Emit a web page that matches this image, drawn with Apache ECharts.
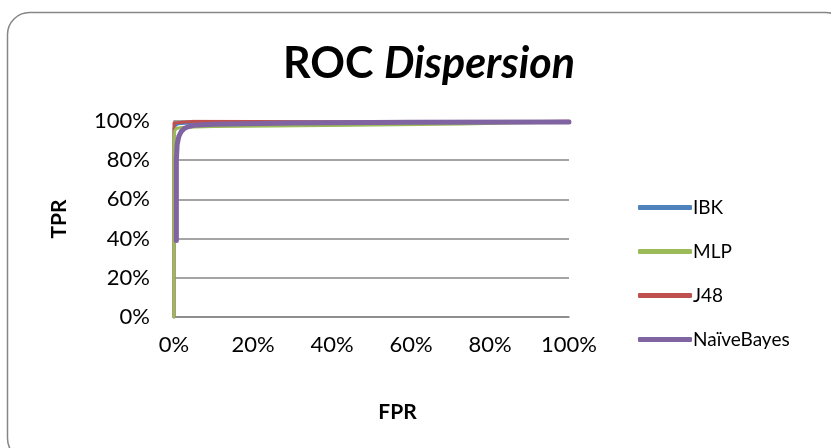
<!DOCTYPE html>
<html>
<head>
<meta charset="utf-8">
<script src="https://cdn.jsdelivr.net/npm/echarts@6/dist/echarts.min.js"></script>
<style>
  html, body { margin: 0; padding: 0; background: #fff; }
  #chart { width: 831px; height: 448px; }
</style>
</head>
<body>
<div id="chart"></div>
<script>
// ROC curves (false positive rate vs true positive rate) per classifier
const seriesNames = ['IBK', 'MLP', 'J48', 'NaïveBayes'];
const seriesColors = ['#4F81BD', '#9BBB59', '#C0504D', '#8064A2'];

const fprIBK = [0, 0, 0.002, 0.005, 0.01, 0.03, 0.1, 0.3, 0.6, 1];
const tprIBK = [0, 0.96, 0.975, 0.982, 0.986, 0.988, 0.99, 0.992, 0.994, 0.997];

const fprMLP = [0, 0, 0, 0.002, 0.006, 0.015, 0.03, 0.1, 0.25, 0.45, 0.73, 0.85, 1];
const tprMLP = [0, 0.5, 0.9, 0.95, 0.962, 0.966, 0.968, 0.972, 0.975, 0.978, 0.985, 0.99, 0.995];

const fprJ48 = [0, 0, 0.004, 0.05, 0.2, 0.5, 0.9, 1];
const tprJ48 = [0, 0.99, 0.998, 0.999, 0.997, 0.994, 0.996, 1];

const fprNB = [0.006, 0.006, 0.008, 0.012, 0.018, 0.025, 0.035, 0.05, 0.1, 0.3, 0.6, 1];
const tprNB = [0.39, 0.8, 0.88, 0.92, 0.945, 0.96, 0.97, 0.978, 0.983, 0.99, 0.993, 0.995];

const xTicks = [0, 0.2, 0.4, 0.6, 0.8, 1];
const yTicks = [0, 0.2, 0.4, 0.6, 0.8, 1];

const pairs = (xs, ys) => xs.map((x, i) => [x, ys[i]]);
const pct = v => Math.round(v * 100) + '%';

const FONT = 'Lato';
const chart = echarts.init(document.getElementById('chart'), null, { renderer: 'canvas' });

const lineSeries = (idx, xs, ys, width, z) => ({
  name: seriesNames[idx],
  type: 'line',
  data: pairs(xs, ys),
  showSymbol: false,
  symbol: 'none',
  z: z,
  lineStyle: { color: seriesColors[idx], width: width, cap: 'round', join: 'round' },
  itemStyle: { color: seriesColors[idx] }
});

chart.setOption({
  animation: false,
  backgroundColor: '#fff',
  textStyle: { fontFamily: FONT },
  title: {
    text: '{a|ROC }{b|Dispersion}',
    left: 424,
    textAlign: 'center',
    top: 38,
    textStyle: {
      rich: {
        a: { fontFamily: FONT, fontSize: 43, fontWeight: 'bold', color: '#000' },
        b: { fontFamily: FONT, fontSize: 43, fontWeight: 'bold', fontStyle: 'italic', color: '#000' }
      }
    }
  },
  legend: {
    orient: 'vertical',
    left: 633,
    top: 193,
    itemWidth: 54,
    itemHeight: 5,
    itemGap: 25,
    icon: 'roundRect',
    data: seriesNames,
    textStyle: { fontFamily: FONT, fontSize: 19, color: '#000', padding: [0, 0, 0, -4] }
  },
  grid: { left: 174, right: 262, top: 121, bottom: 131 },
  xAxis: {
    type: 'value',
    min: 0, max: 1, interval: 0.2,
    name: 'FPR',
    nameLocation: 'middle',
    nameGap: 85,
    nameTextStyle: { fontFamily: FONT, fontSize: 21, fontWeight: 'bold', color: '#000', padding: [0, 0, 0, 52] },
    axisLine: { show: true, lineStyle: { color: '#868686', width: 1.5 } },
    axisTick: { show: false },
    splitLine: { show: false },
    axisLabel: {
      margin: 17,
      fontFamily: FONT, fontSize: 22, color: '#000',
      formatter: v => xTicks.some(t => Math.abs(t - v) < 1e-9) ? pct(v) : ''
    }
  },
  yAxis: {
    type: 'value',
    min: 0, max: 1, interval: 0.2,
    name: 'TPR',
    nameLocation: 'middle',
    nameGap: 104,
    nameTextStyle: { fontFamily: FONT, fontSize: 21, fontWeight: 'bold', color: '#000' },
    axisLine: { show: true, lineStyle: { color: '#868686', width: 1.5 } },
    axisTick: { show: false },
    splitLine: { show: true, lineStyle: { color: '#868686', width: 1.5 } },
    axisLabel: {
      margin: 24,
      fontFamily: FONT, fontSize: 22, color: '#000',
      formatter: v => yTicks.some(t => Math.abs(t - v) < 1e-9) ? pct(v) : ''
    }
  },
  graphic: [{
    type: 'rect',
    silent: true,
    z: -10,
    shape: { x: 7.5, y: 12.5, width: 840, height: 448, r: 22 },
    style: { fill: 'none', stroke: '#868686', lineWidth: 1.5 }
  }],
  series: [
    lineSeries(0, fprIBK, tprIBK, 3, 2),
    lineSeries(2, fprJ48, tprJ48, 3, 3),
    lineSeries(1, fprMLP, tprMLP, 3, 4),
    lineSeries(3, fprNB, tprNB, 5, 5)
  ]
});
</script>
</body>
</html>
